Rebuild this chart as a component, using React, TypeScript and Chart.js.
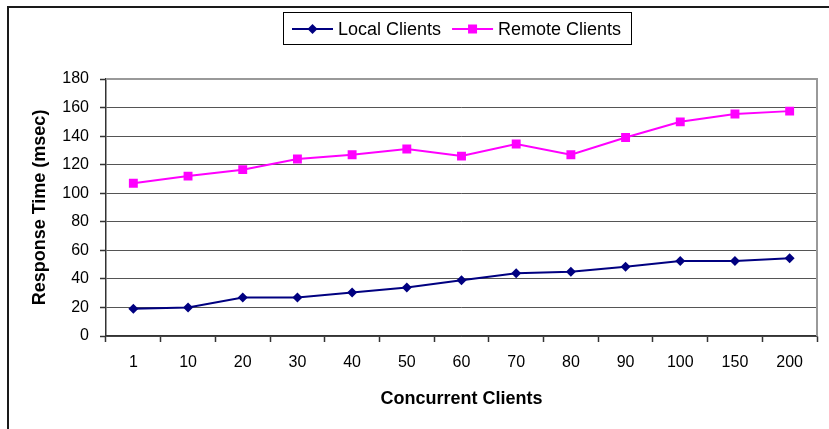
import React, { useEffect, useRef } from 'react';
import { Chart, registerables } from 'chart.js';

Chart.register(...registerables);

const categories = ['1', '10', '20', '30', '40', '50', '60', '70', '80', '90', '100', '150', '200'];
const localClients = [19, 20, 27, 27, 30.5, 34, 39, 44, 45, 48.5, 52.5, 52.5, 54.5];
const remoteClients = [107, 112, 116.5, 124, 127, 131, 126, 134.5, 127, 139, 150, 155.5, 157.5];
const yMin = 0;
const yMax = 180;
const yStep = 20;

const FONT = '"Liberation Sans", Arial, Helvetica, sans-serif';
const NAVY = '#000080';
const MAGENTA = '#FF00FF';

const framePlugin = {
  id: 'frame',
  beforeDraw(chart: any) {
    const ctx = chart.ctx;
    ctx.save();
    ctx.fillStyle = '#ffffff';
    ctx.fillRect(0, 0, chart.width, chart.height);
    ctx.strokeStyle = '#1a1a1a';
    ctx.lineWidth = 2;
    ctx.beginPath();
    ctx.moveTo(8, chart.height);
    ctx.lineTo(8, 7);
    ctx.lineTo(chart.width, 7);
    ctx.stroke();
    ctx.restore();
  },
  afterDraw(chart: any) {
    const ctx = chart.ctx;
    const a = chart.chartArea;
    ctx.save();
    ctx.strokeStyle = '#999999';
    ctx.lineWidth = 2;
    ctx.beginPath();
    ctx.moveTo(a.left, a.top);
    ctx.lineTo(a.right, a.top);
    ctx.lineTo(a.right, a.bottom);
    ctx.stroke();
    ctx.restore();
  },
};

function drawMarker(ctx: CanvasRenderingContext2D, style: string, x: number, y: number, color: string) {
  ctx.fillStyle = color;
  ctx.beginPath();
  if (style === 'rectRot') {
    const r = 5;
    ctx.moveTo(x - r, y);
    ctx.lineTo(x, y - r);
    ctx.lineTo(x + r, y);
    ctx.lineTo(x, y + r);
    ctx.closePath();
  } else {
    const s = 4.5;
    ctx.rect(x - s, y - s, 2 * s, 2 * s);
  }
  ctx.fill();
}

const legendPlugin = {
  id: 'customLegend',
  afterDraw(chart: any) {
    const ctx = chart.ctx;
    ctx.save();
    ctx.strokeStyle = '#000000';
    ctx.lineWidth = 1;
    ctx.strokeRect(283.5, 12.5, 348, 32);
    const cy = 29;
    const items = chart.data.datasets.map((d: any) => ({
      label: d.label,
      color: d.borderColor,
      style: d.pointStyle,
    }));
    ctx.font = `18px ${FONT}`;
    ctx.textBaseline = 'middle';
    ctx.textAlign = 'left';
    let x = 292;
    items.forEach((it: any) => {
      ctx.strokeStyle = it.color;
      ctx.lineWidth = 2;
      ctx.beginPath();
      ctx.moveTo(x, cy);
      ctx.lineTo(x + 41, cy);
      ctx.stroke();
      drawMarker(ctx, it.style, x + 20.5, cy, it.color);
      ctx.fillStyle = '#000000';
      ctx.fillText(it.label, x + 46, cy + 1);
      x += 46 + ctx.measureText(it.label).width + 11;
    });
    ctx.restore();
  },
};

export default function App() {
  const ref = useRef<HTMLCanvasElement | null>(null);

  useEffect(() => {
    if (!ref.current) return;
    const chart = new Chart(ref.current, {
      type: 'line',
      data: {
        labels: categories,
        datasets: [
          {
            label: 'Local Clients',
            data: localClients,
            borderColor: NAVY,
            backgroundColor: NAVY,
            borderWidth: 2,
            pointStyle: 'rectRot',
            pointRadius: 5,
            pointBorderWidth: 0,
            tension: 0,
          },
          {
            label: 'Remote Clients',
            data: remoteClients,
            borderColor: MAGENTA,
            backgroundColor: MAGENTA,
            borderWidth: 2,
            pointStyle: 'rect',
            pointRadius: 6.3,
            pointBorderWidth: 0,
            tension: 0,
          },
        ],
      },
      options: {
        responsive: false,
        animation: false,
        devicePixelRatio: 1,
        layout: { padding: { top: 79, right: 12, left: 0, bottom: 0 } },
        plugins: {
          legend: { display: false },
          tooltip: { enabled: false },
        },
        scales: {
          x: {
            type: 'category',
            offset: true,
            afterFit: (s: any) => {
              s.height = 93;
            },
            grid: {
              offset: true,
              drawOnChartArea: false,
              drawTicks: true,
              tickLength: 6,
              tickColor: '#333333',
              tickWidth: 1.5,
            },
            border: { color: '#333333', width: 1.5 },
            ticks: {
              color: '#000000',
              padding: 11,
              maxRotation: 0,
              autoSkip: false,
              font: { family: FONT, size: 16 },
            },
            title: {
              display: true,
              text: 'Concurrent Clients',
              color: '#000000',
              font: { family: FONT, size: 18, weight: 'bold' },
              padding: { top: 0, bottom: 19 },
            },
          },
          y: {
            min: yMin,
            max: yMax,
            afterFit: (s: any) => {
              s.width = 106;
            },
            ticks: {
              stepSize: yStep,
              color: '#000000',
              padding: 11,
              font: { family: FONT, size: 16 },
            },
            grid: {
              color: '#555555',
              lineWidth: 1,
              borderDash: [1, 1],
              drawTicks: true,
              tickLength: 6,
              tickColor: '#333333',
              tickWidth: 1.5,
              tickBorderDash: [],
            },
            border: { color: '#333333', width: 1.5 },
            title: {
              display: true,
              text: 'Response Time (msec)',
              color: '#000000',
              font: { family: FONT, size: 18, weight: 'bold' },
              padding: { top: 29, bottom: 0 },
            },
          },
        },
      },
      plugins: [framePlugin, legendPlugin],
    } as any);
    return () => chart.destroy();
  }, []);

  return (
    <div style={{ position: 'absolute', left: 0, top: 0, width: 829, height: 429 }}>
      <canvas ref={ref} width={829} height={429} style={{ display: 'block', width: 829, height: 429 }} />
    </div>
  );
}
